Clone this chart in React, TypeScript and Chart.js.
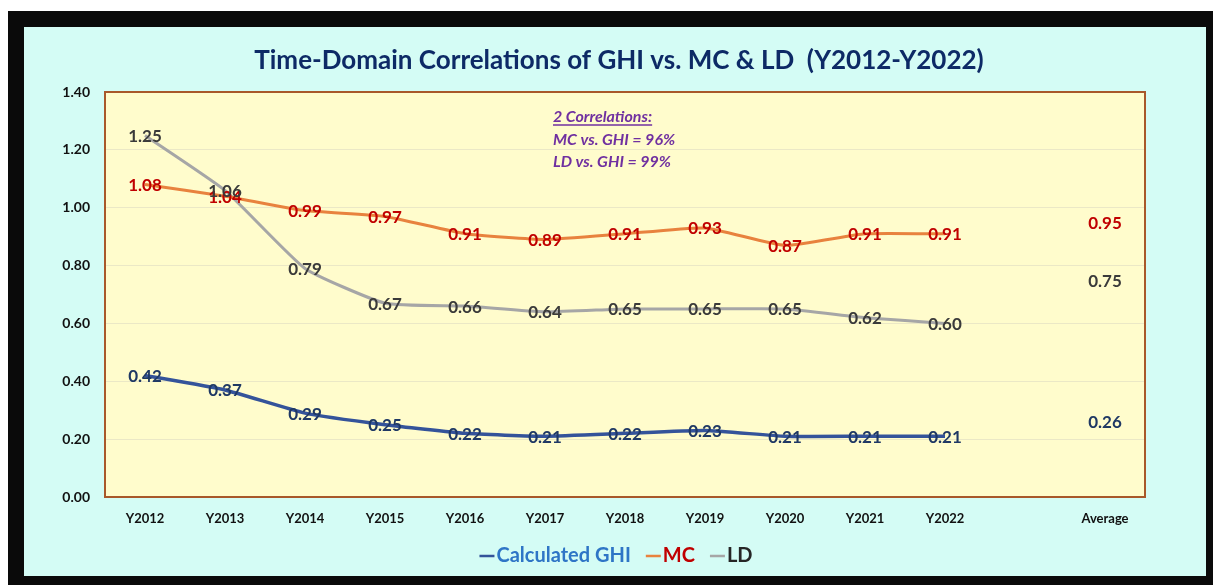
import React, { useEffect, useRef } from "react";
import { Chart, registerables } from "chart.js";

Chart.register(...registerables);

const categories = ["Y2012", "Y2013", "Y2014", "Y2015", "Y2016", "Y2017", "Y2018", "Y2019", "Y2020", "Y2021", "Y2022", "", "Average"];
const ghiValues = [0.42, 0.37, 0.29, 0.25, 0.22, 0.21, 0.22, 0.23, 0.21, 0.21, 0.21, null, 0.26];
const mcValues = [1.08, 1.04, 0.99, 0.97, 0.91, 0.89, 0.91, 0.93, 0.87, 0.91, 0.91, null, 0.95];
const ldValues = [1.25, 1.06, 0.79, 0.67, 0.66, 0.64, 0.65, 0.65, 0.65, 0.62, 0.6, null, 0.75];
const seriesNames = ["Calculated GHI", "MC", "LD"];
const titleText = "Time-Domain Correlations of GHI vs. MC & LD  (Y2012-Y2022)";
const noteLines = ["2 Correlations:", "MC vs. GHI = 96%", "LD vs. GHI = 99%"];

const FONT = "Lato, 'Open Sans', sans-serif";
const lineColors = ["#34539a", "#e8823e", "#a6a6a6"];
const labelColors = ["#1f3864", "#c00000", "#3a3a3a"];
const legendTextColors = ["#2e75c6", "#c00000", "#262626"];

const decorPlugin = {
  id: "decor",
  beforeDraw(chart: any) {
    const { ctx, chartArea: a, width } = chart;
    ctx.save();
    ctx.fillStyle = "#d4fcf5";
    ctx.fillRect(0, 0, width, chart.height);
    ctx.fillStyle = "#fffccc";
    ctx.fillRect(a.left, a.top, a.right - a.left, a.bottom - a.top);
    ctx.restore();
  },
  afterDatasetsDraw(chart: any) {
    const { ctx, chartArea: a } = chart;
    ctx.save();
    // plot border
    ctx.strokeStyle = "#a8582a";
    ctx.lineWidth = 2;
    ctx.strokeRect(a.left, a.top, a.right - a.left, a.bottom - a.top);

    // data labels
    ctx.textAlign = "center";
    ctx.textBaseline = "middle";
    ctx.font = `bold 17px ${FONT}`;
    const order = [1, 2, 0];
    order.forEach((di) => {
      const meta = chart.getDatasetMeta(di);
      const data = chart.data.datasets[di].data;
      ctx.fillStyle = labelColors[di];
      meta.data.forEach((pt: any, i: number) => {
        const v = data[i];
        if (v === null || v === undefined) return;
        ctx.fillText(Number(v).toFixed(2), pt.x, pt.y + 1);
      });
    });

    // title
    ctx.fillStyle = "#0d2a66";
    ctx.font = `bold 26px ${FONT}`;
    ctx.textAlign = "center";
    ctx.fillText(titleText, 595, 34);

    // note
    ctx.textAlign = "left";
    ctx.textBaseline = "alphabetic";
    ctx.fillStyle = "#7030a0";
    ctx.font = `italic bold 16px ${FONT}`;
    const nx = 529;
    const ny = [95, 118, 140];
    noteLines.forEach((t, i) => {
      ctx.fillText(t, nx, ny[i]);
      if (i === 0) {
        const w = ctx.measureText(t).width;
        ctx.strokeStyle = "#7030a0";
        ctx.lineWidth = 1.5;
        ctx.beginPath();
        ctx.moveTo(nx, ny[i] + 3);
        ctx.lineTo(nx + w, ny[i] + 3);
        ctx.stroke();
      }
    });

    // legend
    ctx.font = `bold 20px ${FONT}`;
    ctx.textBaseline = "middle";
    const dash = 15;
    const gap = 2;
    const spacing = 15;
    const widths = seriesNames.map((n) => ctx.measureText(n).width);
    const total = widths.reduce((s, w) => s + dash + gap + w, 0) + spacing * (seriesNames.length - 1);
    let x = 592 - total / 2;
    const ly = 529;
    seriesNames.forEach((n, i) => {
      ctx.strokeStyle = lineColors[i];
      ctx.lineWidth = 2.5;
      ctx.beginPath();
      ctx.moveTo(x, ly);
      ctx.lineTo(x + dash, ly);
      ctx.stroke();
      x += dash + gap;
      ctx.fillStyle = legendTextColors[i];
      ctx.fillText(n, x, ly);
      x += widths[i] + spacing;
    });
    ctx.restore();
  },
};

export default function App() {
  const ref = useRef<HTMLCanvasElement>(null);
  useEffect(() => {
    if (!ref.current) return;
    const chart = new Chart(ref.current, {
      type: "line",
      data: {
        labels: categories,
        datasets: [
          { label: seriesNames[0], data: ghiValues, borderColor: lineColors[0], borderWidth: 3.5, pointRadius: 0, tension: 0.15 },
          { label: seriesNames[1], data: mcValues, borderColor: lineColors[1], borderWidth: 3, pointRadius: 0, tension: 0.15 },
          { label: seriesNames[2], data: ldValues, borderColor: lineColors[2], borderWidth: 3, pointRadius: 0, tension: 0.15 },
        ],
      },
      options: {
        animation: false,
        responsive: false,
        devicePixelRatio: 1,
        layout: { padding: { top: 65, right: 61, left: 0, bottom: 0 } },
        plugins: { legend: { display: false }, title: { display: false }, tooltip: { enabled: false } },
        scales: {
          x: {
            offset: true,
            grid: { display: false, drawTicks: false, offset: true },
            border: { display: false },
            ticks: { color: "#111", font: { family: FONT, size: 13, weight: "bold" }, padding: 14, autoSkip: false, maxRotation: 0 },
            afterFit(scale: any) { scale.height = 79; },
          },
          y: {
            min: 0,
            max: 1.4,
            grid: { color: "#ebe8c6", lineWidth: 1, drawTicks: false },
            border: { display: false },
            ticks: { stepSize: 0.2, color: "#111", font: { family: FONT, size: 14, weight: "bold" }, padding: 15, callback: (v: any) => Number(v).toFixed(2) },
            afterFit(scale: any) { scale.width = 81; },
          },
        },
      },
      plugins: [decorPlugin],
    });
    if ((document as any).fonts) {
      Promise.all([
        (document as any).fonts.load(`bold 16px Lato`),
        (document as any).fonts.load(`italic bold 16px Lato`),
      ]).then(() => chart.update()).catch(() => {});
    }
    return () => chart.destroy();
  }, []);

  return (
    <div style={{ position: "fixed", left: 8, top: 11, right: 0, bottom: 0, background: "#0a0a0a" }}>
      <canvas ref={ref} width={1182} height={549} style={{ position: "absolute", left: 16, top: 16, width: 1182, height: 549 }} />
    </div>
  );
}
